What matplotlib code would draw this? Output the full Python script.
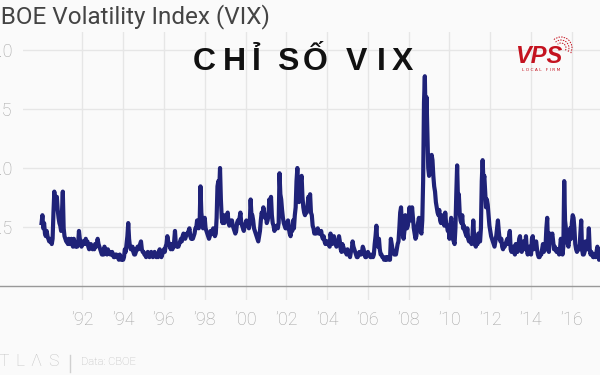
import numpy as np
import matplotlib
matplotlib.use("Agg")
import matplotlib.pyplot as plt
from matplotlib.lines import Line2D
from matplotlib.patches import Arc

# VIX, two readings per month (1st half / 2nd half)
vix_1990s = [
    24, 27, 22, 24, 20, 19, 21, 19, 18, 17, 17, 18, 16, 18, 28, 36, 30, 32, 34, 29, 26, 24, 23, 21,  # 1990
    28, 36, 22, 19, 18, 17, 17, 16, 18, 16, 17, 18, 16, 15, 18, 16, 15, 16, 15, 16, 21, 18, 17, 15,  # 1991
    16, 17, 17, 16, 18, 16, 17, 15, 14, 15, 16, 15, 14, 15, 14, 16, 15, 16, 18, 16, 15, 14, 13, 12,  # 1992
    13, 12, 15, 14, 13, 12, 14, 13, 13, 12, 12, 13, 12, 11, 11, 12, 12, 11, 11, 10, 12, 11, 10, 11,  # 1993
    10, 11, 14, 13, 16, 19, 24, 18, 15, 14, 14, 15, 13, 12, 12, 13, 14, 15, 14, 15, 16, 17, 14, 13,  # 1994
    13, 12, 12, 11, 12, 13, 12, 11, 12, 13, 12, 11, 12, 13, 12, 11, 12, 11, 13, 14, 12, 11, 12, 13,  # 1995
    14, 13, 15, 16, 19, 17, 16, 15, 14, 16, 14, 15, 17, 21, 16, 15, 16, 15, 16, 17, 18, 17, 19, 20,  # 1996
    19, 18, 19, 20, 20, 21, 22, 19, 18, 19, 18, 19, 20, 22, 22, 25, 23, 22, 24, 38, 28, 25, 22, 24,  # 1997
    26, 22, 21, 20, 19, 18, 19, 21, 21, 20, 22, 20, 19, 20, 26, 38, 40, 36, 45, 33, 26, 24, 27, 24,  # 1998
    26, 27, 26, 28, 24, 23, 24, 25, 25, 23, 22, 21, 20, 21, 24, 25, 24, 26, 28, 24, 23, 22, 21, 23,  # 1999
]
vix_2000s = [
    24, 25, 23, 24, 22, 24, 33, 27, 27, 25, 22, 21, 20, 19, 18, 17, 19, 21, 25, 28, 27, 30, 28, 26,  # 2000
    27, 24, 25, 27, 33, 30, 34, 27, 24, 23, 21, 22, 22, 23, 22, 24, 43, 35, 33, 29, 26, 24, 23, 22,  # 2001
    22, 24, 25, 22, 20, 19, 22, 21, 25, 22, 27, 30, 40, 45, 36, 32, 38, 40, 42, 34, 30, 28, 27, 29,  # 2002
    28, 31, 34, 33, 35, 28, 27, 23, 22, 20, 21, 20, 21, 22, 20, 21, 20, 21, 19, 18, 19, 17, 16, 17,  # 2003
    16, 17, 16, 15, 20, 18, 16, 17, 19, 17, 16, 15, 16, 17, 19, 17, 14, 13, 16, 15, 14, 13, 13, 12,  # 2004
    14, 13, 12, 11, 13, 14, 17, 15, 14, 13, 12, 11, 11, 12, 13, 12, 12, 13, 15, 14, 12, 11, 11, 12,  # 2005
    13, 12, 12, 11, 11, 12, 11, 12, 16, 19, 23, 17, 15, 18, 14, 12, 12, 11, 11, 10, 10, 11, 10, 11,  # 2006
    11, 10, 10, 18, 16, 14, 13, 12, 13, 12, 14, 16, 17, 22, 28, 30, 23, 20, 18, 21, 27, 25, 22, 23,  # 2007
    26, 30, 25, 27, 30, 26, 22, 20, 18, 19, 22, 24, 26, 23, 21, 20, 25, 40, 70, 80, 62, 72, 58, 45,  # 2008
    42, 48, 45, 50, 48, 42, 38, 36, 32, 30, 28, 27, 29, 25, 24, 27, 25, 24, 23, 28, 24, 23, 21, 22,  # 2009
]
vix_2010s = [
    18, 23, 26, 21, 18, 17, 16, 22, 35, 46, 33, 35, 28, 25, 24, 27, 22, 23, 21, 20, 19, 22, 18, 17,  # 2010
    17, 18, 16, 19, 25, 19, 16, 15, 17, 16, 20, 18, 17, 22, 40, 48, 40, 42, 36, 30, 33, 31, 27, 23,  # 2011
    21, 19, 18, 17, 16, 15, 17, 19, 22, 25, 21, 18, 17, 18, 15, 14, 16, 15, 16, 17, 18, 16, 19, 21,  # 2012
    14, 13, 14, 15, 13, 12, 16, 14, 13, 14, 18, 19, 14, 13, 15, 17, 15, 14, 19, 14, 12, 13, 15, 13,  # 2013
    12, 18, 19, 14, 15, 16, 17, 14, 12, 11, 11, 12, 12, 14, 16, 13, 14, 15, 22, 26, 14, 13, 20, 17,  # 2014
    19, 20, 17, 14, 15, 14, 13, 14, 13, 12, 14, 18, 16, 12, 15, 40, 25, 22, 20, 16, 15, 18, 22, 18,  # 2015
    24, 27, 26, 22, 16, 14, 13, 14, 15, 14, 20, 25, 14, 12, 12, 13, 17, 15, 14, 16, 22, 14, 12, 13,  # 2016
    12, 11, 11, 12, 11, 13, 15, 14, 10, 11,                                                          # 2017
]
vix = np.array(vix_1990s + vix_2000s + vix_2010s, dtype=float)
dates = 1990 + np.arange(len(vix)) / 24

year_ticks = list(range(1992, 2017, 2))
y_ticks = [22.5, 45.0, 67.5, 90.0]

bg = "#fafafa"
grey = "#a3a3a3"
grid = "#e6e6e6"
navy = "#1f2278"

fig = plt.figure(figsize=(6, 3.75), dpi=100, facecolor=bg)
# axes box: x 23..600 px, y 32..300 px
ax = fig.add_axes([23 / 600, 1 - 300 / 375, 577 / 600, 268 / 375])
ax.set_facecolor(bg)
ax.plot(dates, vix, color=navy, lw=3.0, solid_joinstyle="round", zorder=3)

ax.set_xlim(1989.09, 2017.38)
ax.set_ylim(-5.34, 96.87)
ax.set_xticks(year_ticks)
ax.set_xticklabels(["\u2019%02d" % (y % 100) for y in year_ticks])
ax.set_yticks(y_ticks)
ax.set_yticklabels(["%.1f" % v for v in y_ticks])
ax.tick_params(length=0, labelsize=13, labelcolor=grey)
ax.tick_params(axis="x", pad=8)
ax.tick_params(axis="y", pad=7.5)
for lab in ax.get_xticklabels() + ax.get_yticklabels():
    lab.set_fontfamily("Roboto")
    lab.set_fontweight("light")
for s in ax.spines.values():
    s.set_visible(False)
for x in year_ticks:
    ax.axvline(x, color=grid, lw=1, zorder=1)
for y in y_ticks:
    ax.axhline(y, color=grid, lw=1, zorder=1)

# baseline runs across the whole image
y0 = 1 - 286 / 375
fig.add_artist(Line2D([0, 1], [y0, y0], color="#999999", lw=1, zorder=4))

# title (cut off on the left like the reference)
fig.text(-15 / 600, 1 - 17 / 375, "CBOE Volatility Index (VIX)", fontsize=17.5,
         family="Roboto", color="#444444", va="center", ha="left")

# overlay heading, widely letter-spaced
heading = ["C", "H", "\u1ec8", "S", "\u1ed0", "V", "I", "X"]
heading_x = [204, 234, 256, 288, 315, 356, 381, 402]
for ch, px in zip(heading, heading_x):
    fig.text(px / 600, 1 - 70 / 375, ch, fontsize=23, fontweight="bold",
             family="Liberation Sans", color="#111111", ha="center", va="baseline")

# VPS logo
red = "#c4121f"
fig.text(539 / 600, 1 - 63 / 375, "VPS", fontsize=17, fontweight="bold", style="italic",
         family="Liberation Sans", color=red, ha="center", va="baseline")
fig.text(541 / 600, 1 - 70 / 375, "L O C A L   F I R M", fontsize=3.2, color=red,
         family="DejaVu Sans", ha="center", va="center")
for r in [5, 8, 11]:
    fig.add_artist(Arc((561 / 600, 1 - 48 / 375), 2 * r / 600, 2 * r / 375,
                       theta1=-40, theta2=120, color=red, lw=0.7, ls=(0, (1.5, 1.2)),
                       transform=fig.transFigure))

# footer
for ch, px in zip(["T", "L", "\u039b", "S"], [4, 20, 36, 53]):
    fig.text(px / 600, 1 - 362 / 375, ch, fontsize=12.5, family="Roboto", fontweight="light",
             color="#c4c4c4", ha="center", va="center")
fig.add_artist(Line2D([70 / 600, 70 / 600], [1 - 372 / 375, 1 - 355 / 375],
                      color="#d0d0d0", lw=1))
fig.text(81 / 600, 1 - 362 / 375, "Data: CBOE", fontsize=8, family="Roboto",
         fontweight="light", color="#b8b8b8", ha="left", va="center")

fig.savefig("out.png", dpi=100, facecolor=bg)
